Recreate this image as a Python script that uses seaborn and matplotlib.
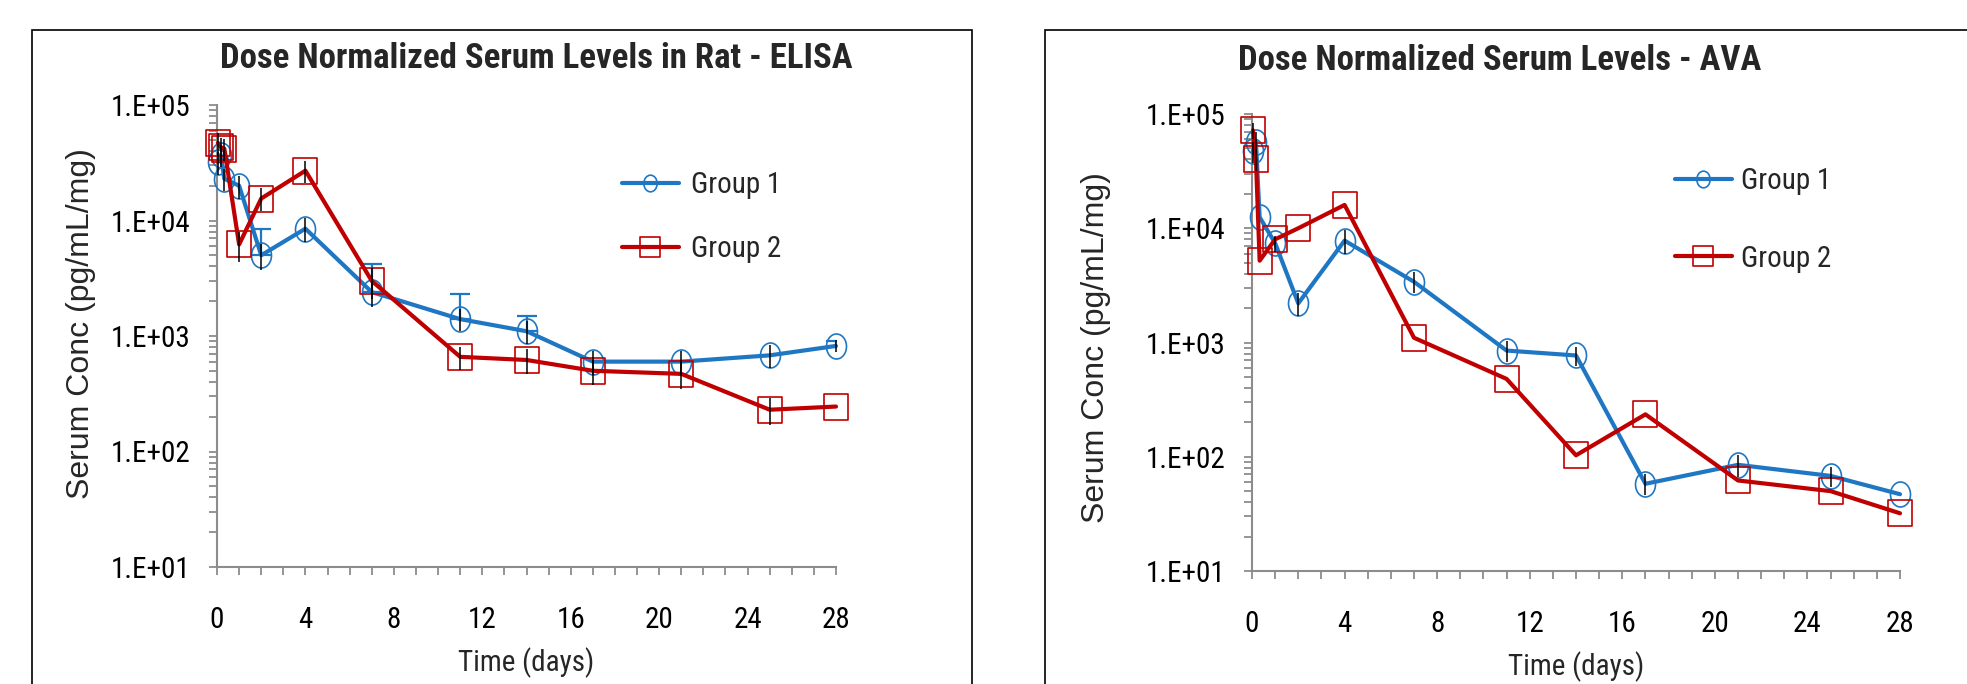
import numpy as np
import pandas as pd
import seaborn as sns
import matplotlib.pyplot as plt
from matplotlib.path import Path
from matplotlib.transforms import Affine2D
from matplotlib.patches import Rectangle
from matplotlib.lines import Line2D
from matplotlib.ticker import LogLocator, MultipleLocator, NullFormatter

sns.set_style('white')
plt.rcParams['font.family'] = ['Roboto Condensed', 'DejaVu Sans']

# sampling times (days)
times = [0.04, 0.17, 0.33, 1, 2, 4, 7, 11, 14, 17, 21, 25, 28]

# ELISA, dose normalized (pg/mL/mg)
elisa_g1 = [32000, 37000, 23000, 20000, 5000, 8500, 2400, 1400, 1100, 600, 600, 680, 820]
elisa_g1_err = [7000, 8000, 5000, 4500, 1300, 2000, 600, 300, 250, 140, 140, 150, 100]
elisa_g1_hi = [0, 0, 0, 0, 3500, 0, 1800, 900, 400, 0, 0, 0, 80]
elisa_g2 = [47000, 43000, 42000, 6200, 15500, 27000, 3000, 660, 620, 500, 470, 230, 245]
elisa_g2_err = [10000, 9000, 9000, 1800, 3500, 6000, 900, 150, 150, 120, 120, 60, 0]

# AVA, dose normalized (pg/mL/mg)
ava_g1 = [47000, 57000, 12500, 7400, 2200, 7800, 3400, 850, 770, 58, 85, 68, 47]
ava_g1_err = [10000, 12000, 0, 1200, 500, 1800, 700, 180, 150, 12, 18, 14, 0]
ava_g2 = [72000, 40000, 5200, 8000, 10000, 16000, 1100, 480, 103, 235, 62, 50, 32]
ava_g2_err = [12000, 8000, 0, 0, 0, 0, 0, 0, 0, 0, 0, 0, 0]

ytick_vals = [10, 100, 1000, 10000, 100000]
ytick_labels = ['1.E+01', '1.E+02', '1.E+03', '1.E+04', '1.E+05']

blue = '#1f77c4'
red = '#c00000'
gray = '#8c8c8c'

W, H = 1967, 684
fig = plt.figure(figsize=(W / 100, H / 100), dpi=100)

circ = Path.unit_circle().transformed(Affine2D().scale(0.8, 1.0))
sq = Path.unit_rectangle().transformed(Affine2D().translate(-0.5, -0.5).scale(0.93, 1.0))


def px_box(x0, x1, ytop, ybot):
    return [x0 / W, 1 - ybot / H, (x1 - x0) / W, (ybot - ytop) / H]


def panel(ax, g1, g1_err, g2, g2_err, g1_hi=None):
    t = np.array(times)
    # blue upper error bars with caps
    if g1_hi is not None:
        hi = np.array(g1_hi, dtype=float)
        m = hi > 0
        ax.errorbar(t[m], np.array(g1)[m], yerr=[np.zeros(m.sum()), hi[m]], fmt='none',
                    ecolor=blue, elinewidth=1.6, capsize=7, capthick=1.6, zorder=2)
    sns.lineplot(x=times, y=g1, ax=ax, color=blue, lw=3, marker=circ, ms=18,
                 mfc='none', mec=blue, mew=1.2, estimator=None, clip_on=False, zorder=3)
    sns.lineplot(x=times, y=g2, ax=ax, color=red, lw=3, marker=sq, ms=19,
                 mfc='none', mec=red, mew=1.2, estimator=None, clip_on=False, zorder=4)
    for vals, err in [(g1, g1_err), (g2, g2_err)]:
        e = np.array(err, dtype=float)
        m = e > 0
        ax.errorbar(t[m], np.array(vals)[m], yerr=e[m], fmt='none', ecolor='k',
                    elinewidth=1.1, capsize=0, zorder=5, clip_on=False)

    ax.set_yscale('log')
    ax.set_ylim(10, 1e5)
    ax.set_xlim(0, 28)
    ax.set_xticks(range(0, 29, 4))
    ax.xaxis.set_minor_locator(MultipleLocator(1))
    ax.set_yticks(ytick_vals)
    ax.set_yticklabels(ytick_labels)
    ax.yaxis.set_minor_locator(LogLocator(base=10, subs=np.arange(2, 10)))
    ax.yaxis.set_minor_formatter(NullFormatter())
    for s in ['top', 'right']:
        ax.spines[s].set_visible(False)
    for s in ['left', 'bottom']:
        ax.spines[s].set_color(gray)
        ax.spines[s].set_linewidth(1.5)
    ax.tick_params(which='both', direction='out', length=6, width=1.3, color=gray,
                   left=True, bottom=True, labelsize=21, labelcolor='black')
    ax.tick_params(axis='y', which='both', pad=13)
    ax.tick_params(axis='x', which='both', pad=22)
    ax.set_xlabel('Time (days)', fontsize=21, labelpad=10)
    ax.set_facecolor('none')

    handles = [Line2D([], [], color=blue, lw=3, marker=circ, ms=12, mfc='none', mec=blue, mew=1.2),
               Line2D([], [], color=red, lw=3, marker=sq, ms=15, mfc='none', mec=red, mew=1.2)]
    return handles


# left panel - ELISA
ax1 = fig.add_axes(px_box(217, 836, 105, 567))
h = panel(ax1, elisa_g1, elisa_g1_err, elisa_g2, elisa_g2_err, elisa_g1_hi)
ax1.set_ylabel('Serum Conc (pg/mL/mg)', fontsize=23, family=['Liberation Sans', 'DejaVu Sans'])
ax1.yaxis.set_label_coords(-0.196, 0.528)
ax1.legend(h, ['Group 1', 'Group 2'], loc='upper left', frameon=False, fontsize=21,
           bbox_to_anchor=(622 / W, 1 - 171 / H), bbox_transform=fig.transFigure,
           borderpad=0, borderaxespad=0, handlelength=1.95, handletextpad=0.4, labelspacing=1.25)

# right panel - AVA
ax2 = fig.add_axes(px_box(1252, 1900, 114, 571))
h = panel(ax2, ava_g1, ava_g1_err, ava_g2, ava_g2_err)
ax2.set_ylabel('Serum Conc (pg/mL/mg)', fontsize=23, family=['Liberation Sans', 'DejaVu Sans'])
ax2.yaxis.set_label_coords(-0.218, 0.49)
ax2.legend(h, ['Group 1', 'Group 2'], loc='upper left', frameon=False, fontsize=21,
           bbox_to_anchor=(1675 / W, 1 - 167 / H), bbox_transform=fig.transFigure,
           borderpad=0, borderaxespad=0, handlelength=1.95, handletextpad=0.3, labelspacing=1.7)

# titles
fig.text(536 / W, 1 - 59 / H, 'Dose Normalized Serum Levels in Rat - ELISA', ha='center',
         va='center', fontsize=25, fontweight='bold')
fig.text(1500 / W, 1 - 61 / H, 'Dose Normalized Serum Levels - AVA', ha='center',
         va='center', fontsize=25, fontweight='bold')

# chart-area frames (cut by the image edge)
fig.patches.append(Rectangle((32 / W, -0.05), 940 / W, 1.05 - 30 / H, transform=fig.transFigure,
                             fill=False, ec='black', lw=1.2))
fig.patches.append(Rectangle((1045 / W, -0.05), 1.0, 1.05 - 30 / H, transform=fig.transFigure,
                             fill=False, ec='black', lw=1.2))

fig.savefig('out.png', dpi=100)
